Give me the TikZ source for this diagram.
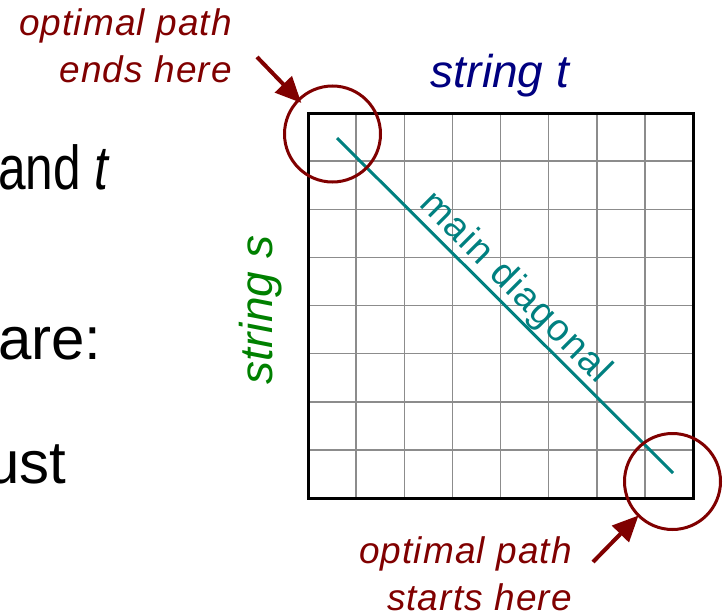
\documentclass[tikz,border=0pt]{standalone}
\usepackage{fontspec}
\setmainfont{Liberation Sans}
\usepackage{graphicx}
\usepackage{tikz}
\usetikzlibrary{arrows.meta}
\definecolor{darkred}{RGB}{128,0,0}
\definecolor{navyblue}{RGB}{0,0,128}
\definecolor{darkgreen}{RGB}{0,128,0}
\definecolor{tealline}{RGB}{0,128,128}

\begin{document}
\begin{tikzpicture}[x=1pt,y=-1pt,
  slide/.style={anchor=base west,inner sep=0,font=\fontsize{60}{72}\selectfont},
  note/.style={anchor=base east,inner sep=0,text=darkred,font=\fontsize{37}{44}\selectfont\itshape\addfontfeature{LetterSpace=3}},
  axislabel/.style={anchor=base,inner sep=0,font=\fontsize{46}{55}\selectfont\itshape},
  gridline/.style={black!45,line width=1.5pt},
  ring/.style={circle,draw=darkred,line width=3pt,minimum size=96pt,inner sep=0,outer sep=0},
  pointer/.style={darkred,line width=4pt,-{Triangle[length=26pt,width=23pt]}}]
  \useasboundingbox (0,0) rectangle (724,613);
  \clip (0,0) rectangle (724,613);
  % slide text behind the figure
  \node[slide] (andt) at (-2,189) {\fontsize{62}{72}\selectfont\scalebox{0.8}[1]{and \textit{t}}};
  \node[slide] (are) at (-2,359) {are:};
  \node[slide] (ust) at (-14,483) {ust};
  % the table
  \foreach \k in {1,...,7}{
    \draw[gridline] ({308+48.125*\k},113) -- ({308+48.125*\k},498);
    \draw[gridline] (308,{113+48.125*\k}) -- (693,{113+48.125*\k});
  }
  \draw[line width=3pt] (308,113) rectangle (693,498);
  \node[axislabel,text=navyblue] (strt) at (500,87) {string t};
  \node[axislabel,text=darkgreen,rotate=90] (strs) at (272,310) {string s};
  % main diagonal
  \draw[tealline,line width=3pt] (337,138) -- (673,473);
  \node[rotate=-45,anchor=base,inner sep=0,text=tealline,font=\fontsize{38}{46}\selectfont\addfontfeature{LetterSpace=4}] (diaglabel) at (508,295) {main diagonal};
  % where the path ends and starts
  \node[ring] (endring) at (332.5,134) {};
  \node[ring] (startring) at (672.5,481.5) {};
  \coordinate (endtail) at (257,57);
  \coordinate (starttail) at (593,562);
  \draw[pointer,shorten >=-4pt] (endtail) -- (endring.135);
  \draw[pointer] (starttail) -- (startring.225);
  \node[note] (endtop) at (232,35) {optimal path};
  \node[note] (endbottom) at (232,82) {ends here};
  \node[note] (starttop) at (572,563) {optimal path};
  \node[note] (startbottom) at (572,610) {starts here};
\end{tikzpicture}
\end{document}
